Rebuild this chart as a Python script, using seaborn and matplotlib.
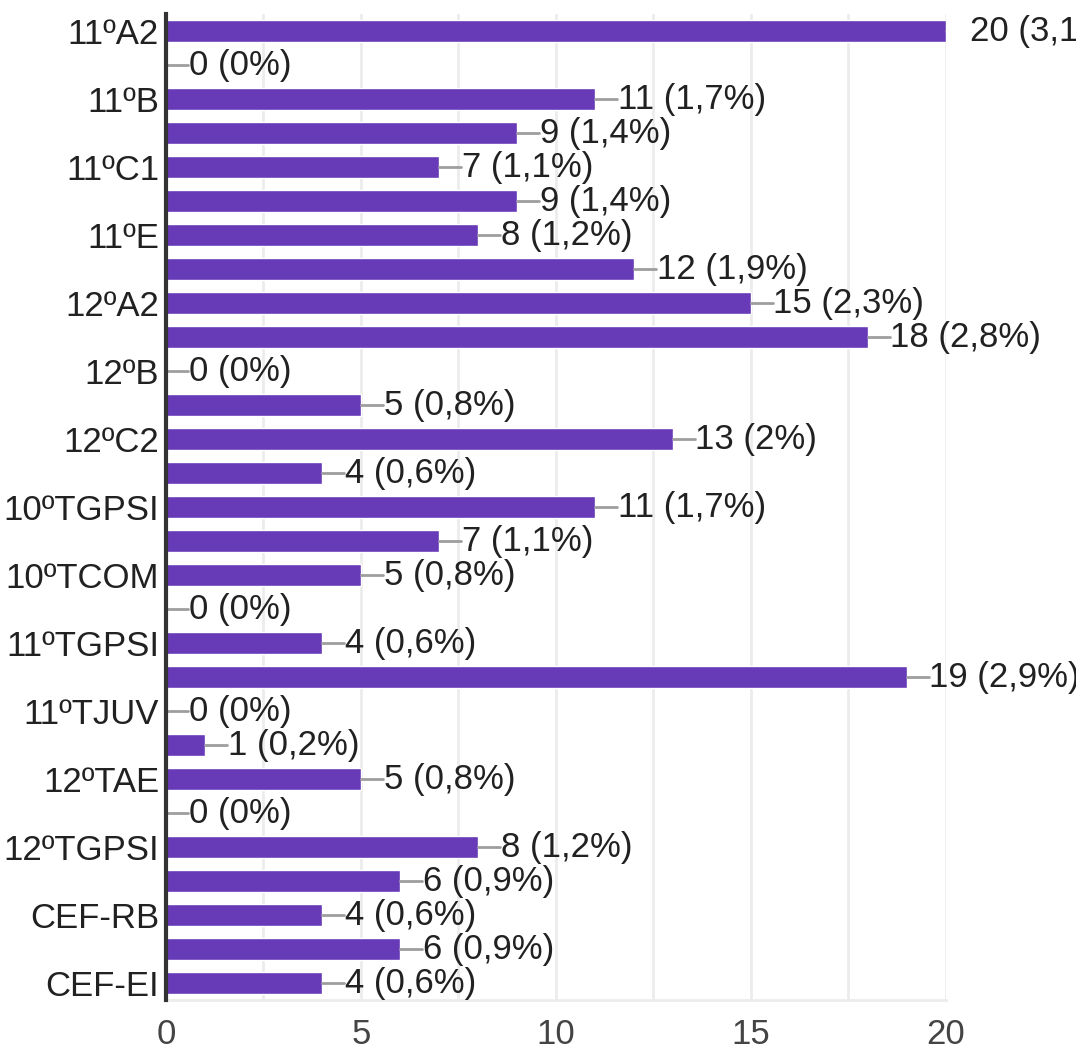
import matplotlib
matplotlib.use("Agg")
import matplotlib.pyplot as plt
import numpy as np
import pandas as pd
import seaborn as sns

# turmas (the odd ones are not labelled in the chart, names guessed)
turmas = ['11ºA2', '11ºA3', '11ºB', '11ºC', '11ºC1', '11ºD', '11ºE', '12ºA1',
          '12ºA2', '12ºA3', '12ºB', '12ºC1', '12ºC2', '12ºD', '10ºTGPSI', '10ºTAE',
          '10ºTCOM', '10ºTJUV', '11ºTGPSI', '11ºTAE', '11ºTJUV', '11ºTCOM', '12ºTAE',
          '12ºTCOM', '12ºTGPSI', '12ºTJUV', 'CEF-RB', 'CEF-EL', 'CEF-EI']
respostas = [20, 0, 11, 9, 7, 9, 8, 12, 15, 18, 0, 5, 13, 4, 11, 7, 5, 0, 4, 19,
             0, 1, 5, 0, 8, 6, 4, 6, 4]
percentagens = ['3,1%', '0%', '1,7%', '1,4%', '1,1%', '1,4%', '1,2%', '1,9%', '2,3%',
                '2,8%', '0%', '0,8%', '2%', '0,6%', '1,7%', '1,1%', '0,8%', '0%',
                '0,6%', '2,9%', '0%', '0,2%', '0,8%', '0%', '1,2%', '0,9%', '0,6%',
                '0,9%', '0,6%']
x_ticks = [0, 5, 10, 15, 20]

sns.set_style("white")
plt.rcParams['font.family'] = ['Liberation Sans', 'DejaVu Sans']

df = pd.DataFrame({'turma': turmas, 'n': respostas})

fig = plt.figure(figsize=(10.76, 10.54), dpi=100)
ax = fig.add_axes([0.1543, 0.0512, 0.879 - 0.1543, 0.9867 - 0.0512])

sns.barplot(data=df, y='turma', x='n', orient='h', color='#673ab7',
            saturation=1, width=0.67, ax=ax)

ax.set_xlim(0, 20)
ax.set_ylim(len(turmas) - 0.5, -0.5)

# grid every 2.5
for gx in np.arange(2.5, 20.01, 2.5):
    ax.axvline(gx, color='#ececec', lw=2, zorder=0)

# leader lines + value labels
for i, (v, p) in enumerate(zip(respostas, percentagens)):
    ax.plot([v, v + 0.56], [i, i], color='#9e9e9e', lw=2, zorder=3, clip_on=True)
    ax.text(v + 0.58 if v < 20 else v + 0.62, i, f'{v} ({p})', va='center', ha='left',
            fontsize=25, color='#212121', clip_on=False)

ax.set_yticks(range(0, len(turmas), 2))
ax.set_yticklabels(turmas[::2], fontsize=25, color='#212121')
ax.set_xticks(x_ticks)
ax.set_xticklabels([str(t) for t in x_ticks], fontsize=25, color='#444444')
ax.tick_params(axis='both', length=0)
ax.tick_params(axis='y', pad=5)
ax.tick_params(axis='x', pad=13)
ax.set_xlabel('')
ax.set_ylabel('')

for s in ['top', 'right']:
    ax.spines[s].set_visible(False)
ax.spines['left'].set_color('#333333')
ax.spines['left'].set_linewidth(3)
ax.spines['left'].set_zorder(5)
ax.spines['bottom'].set_color('#ececec')
ax.spines['bottom'].set_linewidth(2)

plt.savefig('out.png', dpi=100)
plt.close()
